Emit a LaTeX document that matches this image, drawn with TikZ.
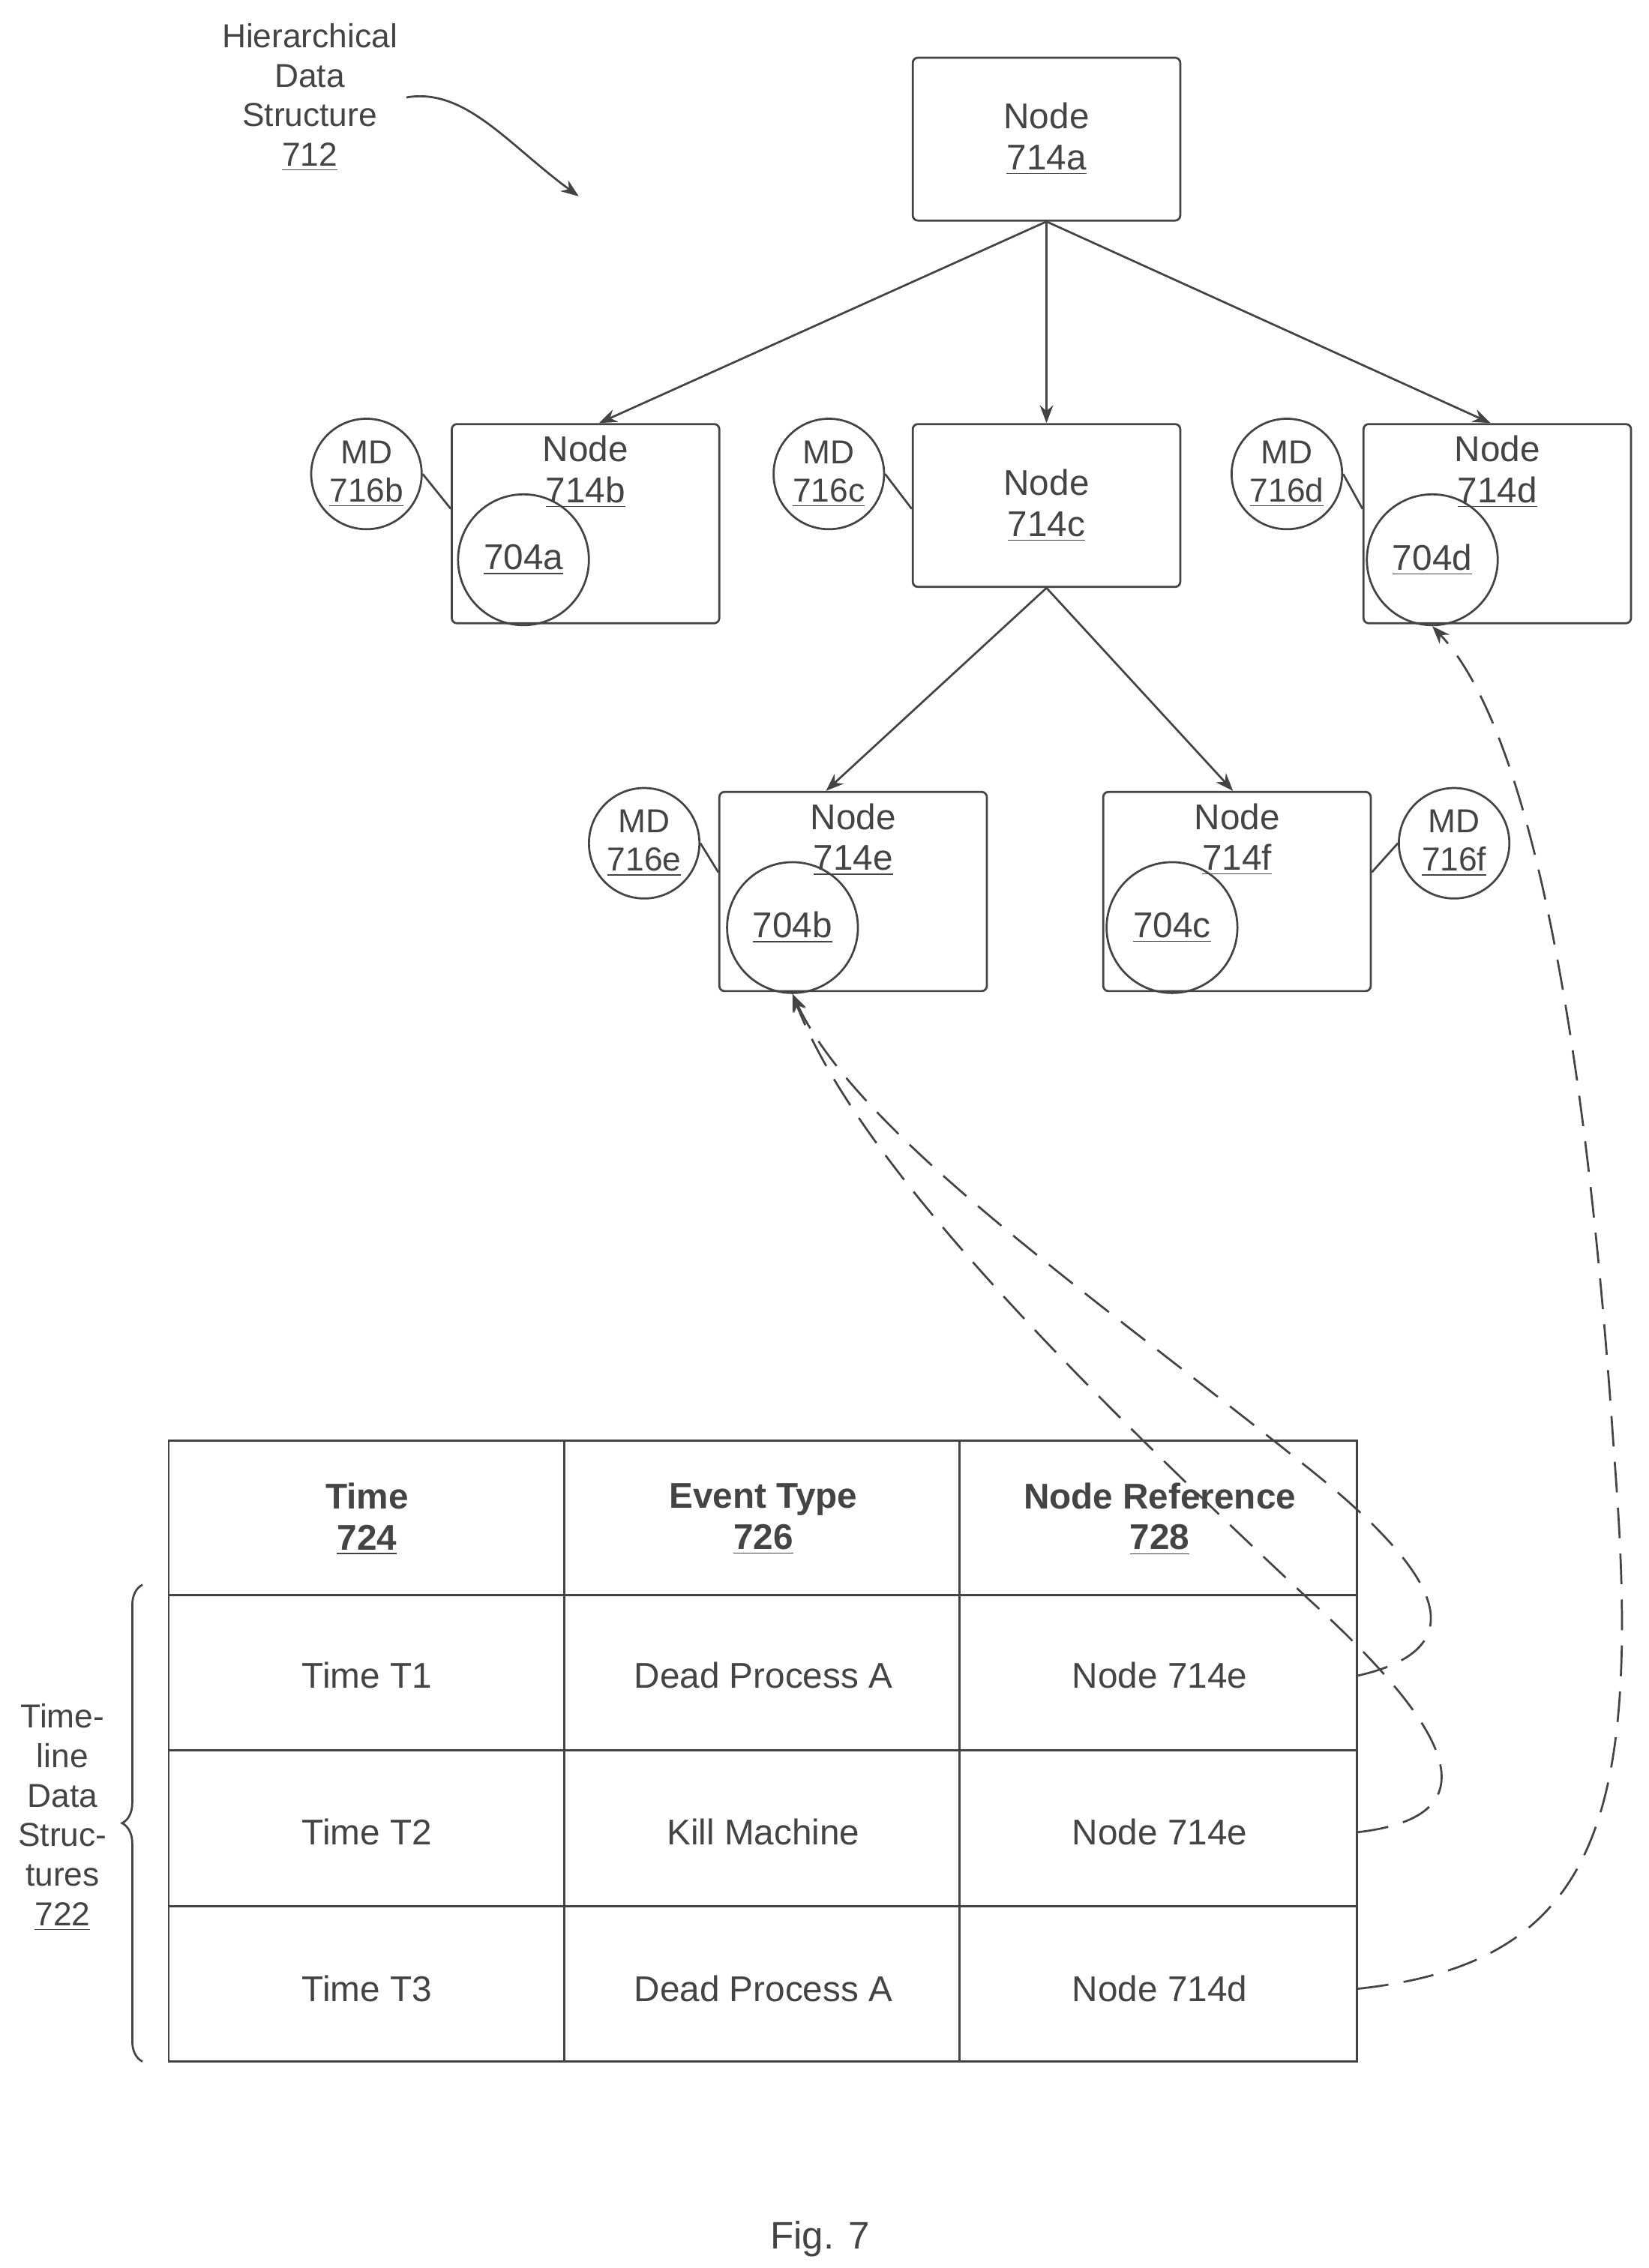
\documentclass[tikz,border=0pt]{standalone}
\usepackage{fontspec}
\setmainfont{Liberation Sans}
\usetikzlibrary{arrows.meta, positioning, decorations.pathreplacing}
\definecolor{inkgray}{HTML}{444444}

\begin{document}
\begin{tikzpicture}[x=0.02cm, y=-0.02cm,
    >={Stealth[length=7pt]},
    every node/.style={font=\fontsize{14}{16}\selectfont, text=inkgray},
    tnode/.style={draw=inkgray, thick, rounded corners=2pt, minimum width=3.68cm, align=center, anchor=north west},
    refc/.style={draw=inkgray, thick, circle, minimum size=1.8cm, inner sep=0pt},
    mdc/.style={draw=inkgray, thick, circle, minimum size=1.52cm, inner sep=0pt, align=center, font=\fontsize{13}{15}\selectfont},
    arr/.style={->, thick, draw=inkgray},
    dref/.style={->, thick, draw=inkgray, dash pattern=on 12pt off 6pt},
    cell/.style={minimum width=5.44cm, minimum height=2.14cm, align=center},
]
\useasboundingbox (0,0) rectangle (1134,1560);

% Title label
\node[align=center, font=\fontsize{13}{15.5}\selectfont] (title) at (213,67) {Hierarchical\\Data\\Structure\\\underline{712}};
\draw[arr] (title.east) .. controls (320,60) and (350,100) .. (398,135);

% Tree nodes
\node[tnode, minimum height=2.24cm] (n714a) at (627,39) {Node\\\underline{714a}};
\node[tnode, minimum height=2.24cm] (n714c) at (627,291) {Node\\\underline{714c}};
\node[tnode, minimum height=2.74cm, text depth=1.5cm] (n714b) at (310,291) {Node\\\underline{714b}};
\node[tnode, minimum height=2.74cm, text depth=1.5cm] (n714d) at (937,291) {Node\\\underline{714d}};
\node[tnode, minimum height=2.74cm, text depth=1.5cm] (n714e) at (494,544) {Node\\\underline{714e}};
\node[tnode, minimum height=2.74cm, text depth=1.5cm] (n714f) at (758,544) {Node\\\underline{714f}};

% Reference circles
\node[refc] (r704a) at (360,385) {\underline{704a}};
\node[refc] (r704d) at (985,385) {\underline{704d}};
\node[refc] (r704b) at (545,638) {\underline{704b}};
\node[refc] (r704c) at (806,638) {\underline{704c}};

% Metadata circles
\node[mdc] (md716b) at (252,326) {MD\\\underline{716b}};
\node[mdc] (md716c) at (570,326) {MD\\\underline{716c}};
\node[mdc] (md716d) at (885,326) {MD\\\underline{716d}};
\node[mdc] (md716e) at (443,580) {MD\\\underline{716e}};
\node[mdc] (md716f) at (1000,580) {MD\\\underline{716f}};
\draw[thick, inkgray] (md716b.east) -- (n714b.west |- 0,350);
\draw[thick, inkgray] (md716c.east) -- (n714c.west |- 0,350);
\draw[thick, inkgray] (md716d.east) -- (n714d.west |- 0,350);
\draw[thick, inkgray] (md716e.east) -- (n714e.west |- 0,600);
\draw[thick, inkgray] (md716f.west) -- (n714f.east |- 0,600);

% Tree edges
\draw[arr] (n714a.south) -- (412,291);
\draw[arr] (n714a.south) -- (n714c.north);
\draw[arr] (n714a.south) -- (1025,291);
\draw[arr] (n714c.south) -- (568,544);
\draw[arr] (n714c.south) -- (848,544);

% Table
\node[cell, anchor=north west, font=\fontsize{14}{16}\selectfont\bfseries] (h724) at (116,991) {Time\\\underline{724}};
\node[cell, right=0pt of h724, font=\fontsize{14}{16}\selectfont\bfseries] (h726) {Event Type\\\underline{726}};
\node[cell, right=0pt of h726, font=\fontsize{14}{16}\selectfont\bfseries] (h728) {Node Reference\\\underline{728}};
\node[cell, below=0pt of h724] (t1) {Time T1};
\node[cell, below=0pt of h726] (e1) {Dead Process A};
\node[cell, below=0pt of h728] (ref1) {Node 714e};
\node[cell, below=0pt of t1] (t2) {Time T2};
\node[cell, below=0pt of e1] (e2) {Kill Machine};
\node[cell, below=0pt of ref1] (ref2) {Node 714e};
\node[cell, below=0pt of t2] (t3) {Time T3};
\node[cell, below=0pt of e2] (e3) {Dead Process A};
\node[cell, below=0pt of ref2] (ref3) {Node 714d};
\draw[thick, inkgray] (116,991) rectangle (933,1418);
\foreach \x in {388,660} \draw[thick, inkgray] (\x,991) -- (\x,1418);
\foreach \y in {1097,1204,1311} \draw[thick, inkgray] (116,\y) -- (933,\y);

% Brace and label
\draw[thick, inkgray, decorate, decoration={brace, amplitude=8pt}] (98,1418) -- (98,1090);
\node[align=center, font=\fontsize{13}{15.5}\selectfont] (tl722) at (43,1250) {Time-\\line\\Data\\Struc-\\tures\\\underline{722}};

% Dashed references
\draw[dref] (ref1.east) .. controls (1010,1135) and (1000,1090) .. (900,1010) .. controls (750,890) and (590,780) .. (r704b.south);
\draw[dref] (ref2.east) .. controls (1020,1250) and (1010,1200) .. (900,1100) .. controls (740,950) and (590,800) .. (r704b.south);
\draw[dref] (ref3.east) .. controls (1100,1350) and (1130,1250) .. (1110,1000) .. controls (1090,700) and (1050,500) .. (r704d.south);

\node[font=\fontsize{15}{17}\selectfont] (fig) at (564,1540) {Fig. 7};
\end{tikzpicture}
\end{document}
